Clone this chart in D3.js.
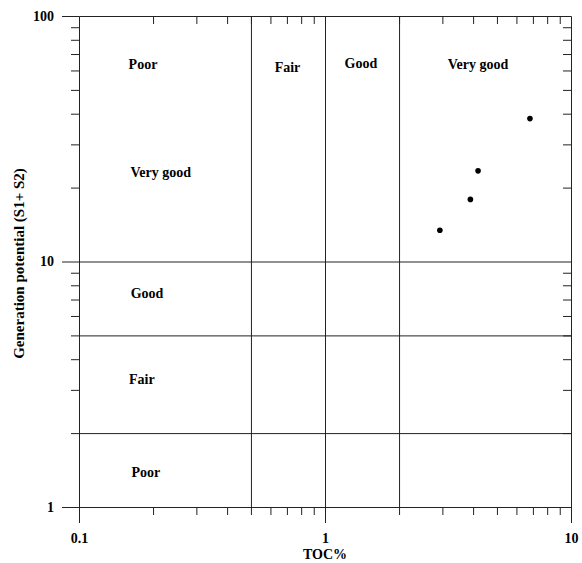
<!DOCTYPE html>
<html>
<head>
<meta charset="utf-8">
<script src="https://cdn.jsdelivr.net/npm/d3@7"></script>
<style>
  body { margin: 0; background: #fff; }
  svg { display: block; font-family: "Liberation Serif", "Times New Roman", serif; font-weight: bold; }
  .axis text { font-size: 14px; font-family: "Liberation Serif", "Times New Roman", serif; font-weight: bold; fill: #000; }
  .axis path, .axis line { stroke: #222; }
  .zone { stroke: #222; stroke-width: 1; }
  .label { font-size: 14px; fill: #000; }
</style>
</head>
<body>
<svg width="582" height="563"></svg>
<script>
// sample points (TOC %, S1+S2)
const tocValues = [2.93, 3.9, 4.19, 6.81]
const genValues = [13.4, 17.9, 23.4, 38.2]

// class boundaries
const tocLimits = [0.5, 1, 2]
const genLimits = [2, 5, 10]

// tick values
const xMajor = [0.1, 1, 10]
const yMajor = [1, 10, 100]
const xMinor = [0.2, 0.3, 0.4, 0.5, 0.6, 0.7, 0.8, 0.9, 2, 3, 4, 5, 6, 7, 8, 9]
const yMinor = [2, 3, 4, 5, 6, 7, 8, 9, 20, 30, 40, 50, 60, 70, 80, 90]

// zone labels
const zoneNames = ['Poor', 'Fair', 'Good', 'Very good', 'Very good', 'Good', 'Fair', 'Poor']
const zoneX = [0.182, 0.704, 1.40, 4.19, 0.215, 0.189, 0.180, 0.187]
const zoneY = [60.8, 59.4, 61.4, 60.8, 22.1, 7.10, 3.17, 1.325]

const svg = d3.select('svg')

const x = d3.scaleLog().domain([0.1, 10]).range([79, 571])
const y = d3.scaleLog().domain([1, 100]).range([507, 16])

const fmt = d => String(d)

// left axis, ticks outward
svg.append('g')
  .attr('class', 'axis')
  .attr('transform', `translate(${x(0.1)},0)`)
  .call(d3.axisLeft(y).tickValues(yMinor).tickSizeInner(8).tickSizeOuter(0).tickFormat(''))
svg.append('g')
  .attr('class', 'axis')
  .attr('transform', `translate(${x(0.1)},0)`)
  .call(d3.axisLeft(y).tickValues(yMajor).tickSizeInner(17).tickSizeOuter(0).tickPadding(8).tickFormat(fmt))

// bottom axis, ticks outward
svg.append('g')
  .attr('class', 'axis')
  .attr('transform', `translate(0,${y(1)})`)
  .call(d3.axisBottom(x).tickValues(xMinor).tickSizeInner(8).tickSizeOuter(0).tickFormat(''))
svg.append('g')
  .attr('class', 'axis')
  .attr('transform', `translate(0,${y(1)})`)
  .call(d3.axisBottom(x).tickValues(xMajor).tickSizeInner(16).tickSizeOuter(0).tickPadding(10).tickFormat(fmt))

// top and right, ticks inward
svg.append('g')
  .attr('class', 'axis')
  .attr('transform', `translate(0,${y(100)})`)
  .call(d3.axisTop(x).tickValues(xMinor).tickSizeInner(-8).tickSizeOuter(0).tickFormat(''))
svg.append('g')
  .attr('class', 'axis')
  .attr('transform', `translate(${x(10)},0)`)
  .call(d3.axisRight(y).tickValues(yMinor).tickSizeInner(-8).tickSizeOuter(0).tickFormat(''))

// class boundary lines, same half-pixel offset as the axes
const zones = svg.append('g').attr('transform', 'translate(0.5,0.5)')

zones.selectAll('.vline')
  .data(tocLimits)
  .enter()
  .append('line')
  .attr('class', 'zone vline')
  .attr('x1', d => x(d))
  .attr('x2', d => x(d))
  .attr('y1', y(100))
  .attr('y2', y(1))

zones.selectAll('.hline')
  .data(genLimits)
  .enter()
  .append('line')
  .attr('class', 'zone hline')
  .attr('x1', x(0.1))
  .attr('x2', x(10))
  .attr('y1', d => y(d))
  .attr('y2', d => y(d))

// zone labels
svg.append('g').selectAll('text')
  .data(zoneNames)
  .enter()
  .append('text')
  .attr('class', 'label')
  .attr('text-anchor', 'middle')
  .attr('x', (d, i) => x(zoneX[i]))
  .attr('y', (d, i) => y(zoneY[i]))
  .text(d => d)

// samples
svg.append('g').selectAll('circle')
  .data(tocValues)
  .enter()
  .append('circle')
  .attr('cx', d => x(d))
  .attr('cy', (d, i) => y(genValues[i]))
  .attr('r', 2.8)
  .attr('fill', '#000')

// axis titles
svg.append('text')
  .attr('class', 'label')
  .attr('text-anchor', 'middle')
  .attr('x', (x(0.1) + x(10)) / 2)
  .attr('y', 559)
  .text('TOC%')

svg.append('text')
  .attr('class', 'label')
  .attr('text-anchor', 'middle')
  .style('font-size', '15px')
  .attr('transform', `translate(24,${(y(1) + y(100)) / 2 + 2}) rotate(-90)`)
  .text('Generation potential (S1+ S2)')
</script>
</body>
</html>
